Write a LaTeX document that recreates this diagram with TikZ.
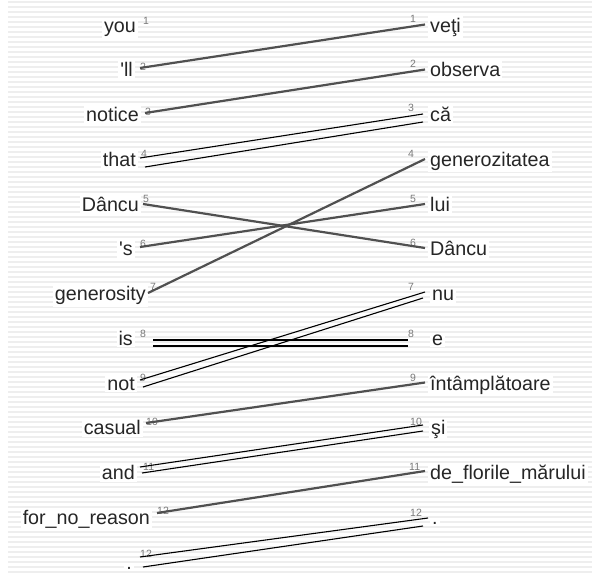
\documentclass[tikz,border=0pt]{standalone}
\usepackage{fontspec}
\setmainfont{Liberation Sans}
\definecolor{linegray}{HTML}{505050}
\definecolor{numgray}{HTML}{7A7A7A}
\definecolor{stripegray}{HTML}{EEEEEE}
\begin{document}
\begin{tikzpicture}[x=1pt,y=-1pt,
  word/.style={font=\fontsize{19.7}{20}\selectfont, inner sep=2pt, fill=white, text=black!85},
  lword/.style={word, anchor=base east},
  rword/.style={word, anchor=base west},
  num/.style={font=\fontsize{10.5}{11}\selectfont, text=numgray, inner sep=0pt, anchor=base west},
  single/.style={draw=linegray, line width=2.2pt},
  pair/.style={draw=black, line width=1.1pt},
  stripe/.style={draw=stripegray, line width=1.4pt}]
\useasboundingbox (0,0) rectangle (595,573);
\fill[white] (0,0) rectangle (595,573);
\foreach \y in {2,7,...,572} \draw[stripe] (8,\y) -- (592,\y);

% left words
\node[lword] (L1)  at (138,32)     {you};
\node[lword] (L2)  at (135,76.75)  {\textquotesingle ll};
\node[lword] (L3)  at (141,121.5)  {notice};
\node[lword] (L4)  at (138,166.25) {that};
\node[lword] (L5)  at (141,211)    {Dâncu};
\node[lword] (L6)  at (135,255.75) {\textquotesingle s};
\node[lword] (L7)  at (148,300.5)  {generosity};
\node[lword] (L8)  at (135,345.25) {is};
\node[lword] (L9)  at (137,390)    {not};
\node[lword] (L10) at (143,434.75) {casual};
\node[lword] (L11) at (137,479.5)  {and};
\node[lword] (L12) at (152,524.25) {for\_no\_reason};
\node[lword] (L13) at (134,569)    {.};

% left numbers
\node[num] (nl1)  at (143,24)  {1};
\node[num] (nl2)  at (140,70)  {2};
\node[num] (nl3)  at (145,115) {3};
\node[num] (nl4)  at (141,157) {4};
\node[num] (nl5)  at (143,202) {5};
\node[num] (nl6)  at (140,247) {6};
\node[num] (nl7)  at (150,290) {7};
\node[num] (nl8)  at (140,337) {8};
\node[num] (nl9)  at (140,381) {9};
\node[num] (nl10) at (146,425) {10};
\node[num] (nl11) at (143,470) {11};
\node[num] (nl12) at (157,514) {12};
\node[num] (nl13) at (140,557) {12};

% right words
\node[rword] (R1)  at (428,32)     {veţi};
\node[rword] (R2)  at (428,76.75)  {observa};
\node[rword] (R3)  at (428,121.5)  {că};
\node[rword] (R4)  at (428,166.25) {generozitatea};
\node[rword] (R5)  at (428,211)    {lui};
\node[rword] (R6)  at (428,255.75) {Dâncu};
\node[rword] (R7)  at (430,300.5)  {nu};
\node[rword] (R8)  at (430,345.25) {e};
\node[rword] (R9)  at (428,390)    {întâmplătoare};
\node[rword] (R10) at (429,434.75) {şi};
\node[rword] (R11) at (428,479.5)  {de\_florile\_mărului};
\node[rword] (R12) at (430,524.25) {.};

% right numbers
\node[num] (nr1)  at (410,22)    {1};
\node[num] (nr2)  at (410,67.75) {2};
\node[num] (nr3)  at (408,111)   {3};
\node[num] (nr4)  at (408,157)   {4};
\node[num] (nr5)  at (410,202)   {5};
\node[num] (nr6)  at (410,246.75){6};
\node[num] (nr7)  at (408,290)   {7};
\node[num] (nr8)  at (408,337)   {8};
\node[num] (nr9)  at (410,381)   {9};
\node[num] (nr10) at (410,425.75){10};
\node[num] (nr11) at (409,470)   {11};
\node[num] (nr12) at (410,516)   {12};

% end points of single links
\coordinate (s2)  at (140,68);
\coordinate (s3)  at (145,113);
\coordinate (s5)  at (143,204);
\coordinate (s6)  at (140,247);
\coordinate (s7)  at (148,293);
\coordinate (s10) at (146,423);
\coordinate (s12) at (157,513);
\coordinate (e1)  at (425,24.5);
\coordinate (e2)  at (425,69.5);
\coordinate (e4)  at (425,159);
\coordinate (e5)  at (425,204);
\coordinate (e6)  at (425,248);
\coordinate (e9)  at (425,382.5);
\coordinate (e11) at (425,471);

% end points of double links
\coordinate (a4)  at (140,158);  \coordinate (b4)  at (145,167);
\coordinate (c3)  at (423,114);  \coordinate (d3)  at (423,122);
\coordinate (a8)  at (153,340);  \coordinate (b8)  at (153,346);
\coordinate (c8)  at (408,340);  \coordinate (d8)  at (408,346);
\coordinate (a9)  at (140,380);  \coordinate (b9)  at (143,387);
\coordinate (c7)  at (425,292);  \coordinate (d7)  at (423,298);
\coordinate (a11) at (140,467);  \coordinate (b11) at (142,473);
\coordinate (c10) at (423,425);  \coordinate (d10) at (423,431);
\coordinate (a13) at (140,557);  \coordinate (b13) at (143,567);
\coordinate (c12) at (428,518);  \coordinate (d12) at (423,526);

% single links
\draw[single] (s2) -- (e1);
\draw[single] (s3) -- (e2);
\draw[single] (s5) -- (e6);
\draw[single] (s6) -- (e5);
\draw[single] (s7) -- (e4);
\draw[single] (s10) -- (e9);
\draw[single] (s12) -- (e11);

% double links
\draw[pair] (a4) -- (c3);   \draw[pair] (b4) -- (d3);
\draw[pair] (a8) -- (c8);   \draw[pair] (b8) -- (d8);
\draw[pair] (a9) -- (c7);   \draw[pair] (b9) -- (d7);
\draw[pair] (a11) -- (c10); \draw[pair] (b11) -- (d10);
\draw[pair] (a13) -- (c12); \draw[pair] (b13) -- (d12);
\end{tikzpicture}
\end{document}
